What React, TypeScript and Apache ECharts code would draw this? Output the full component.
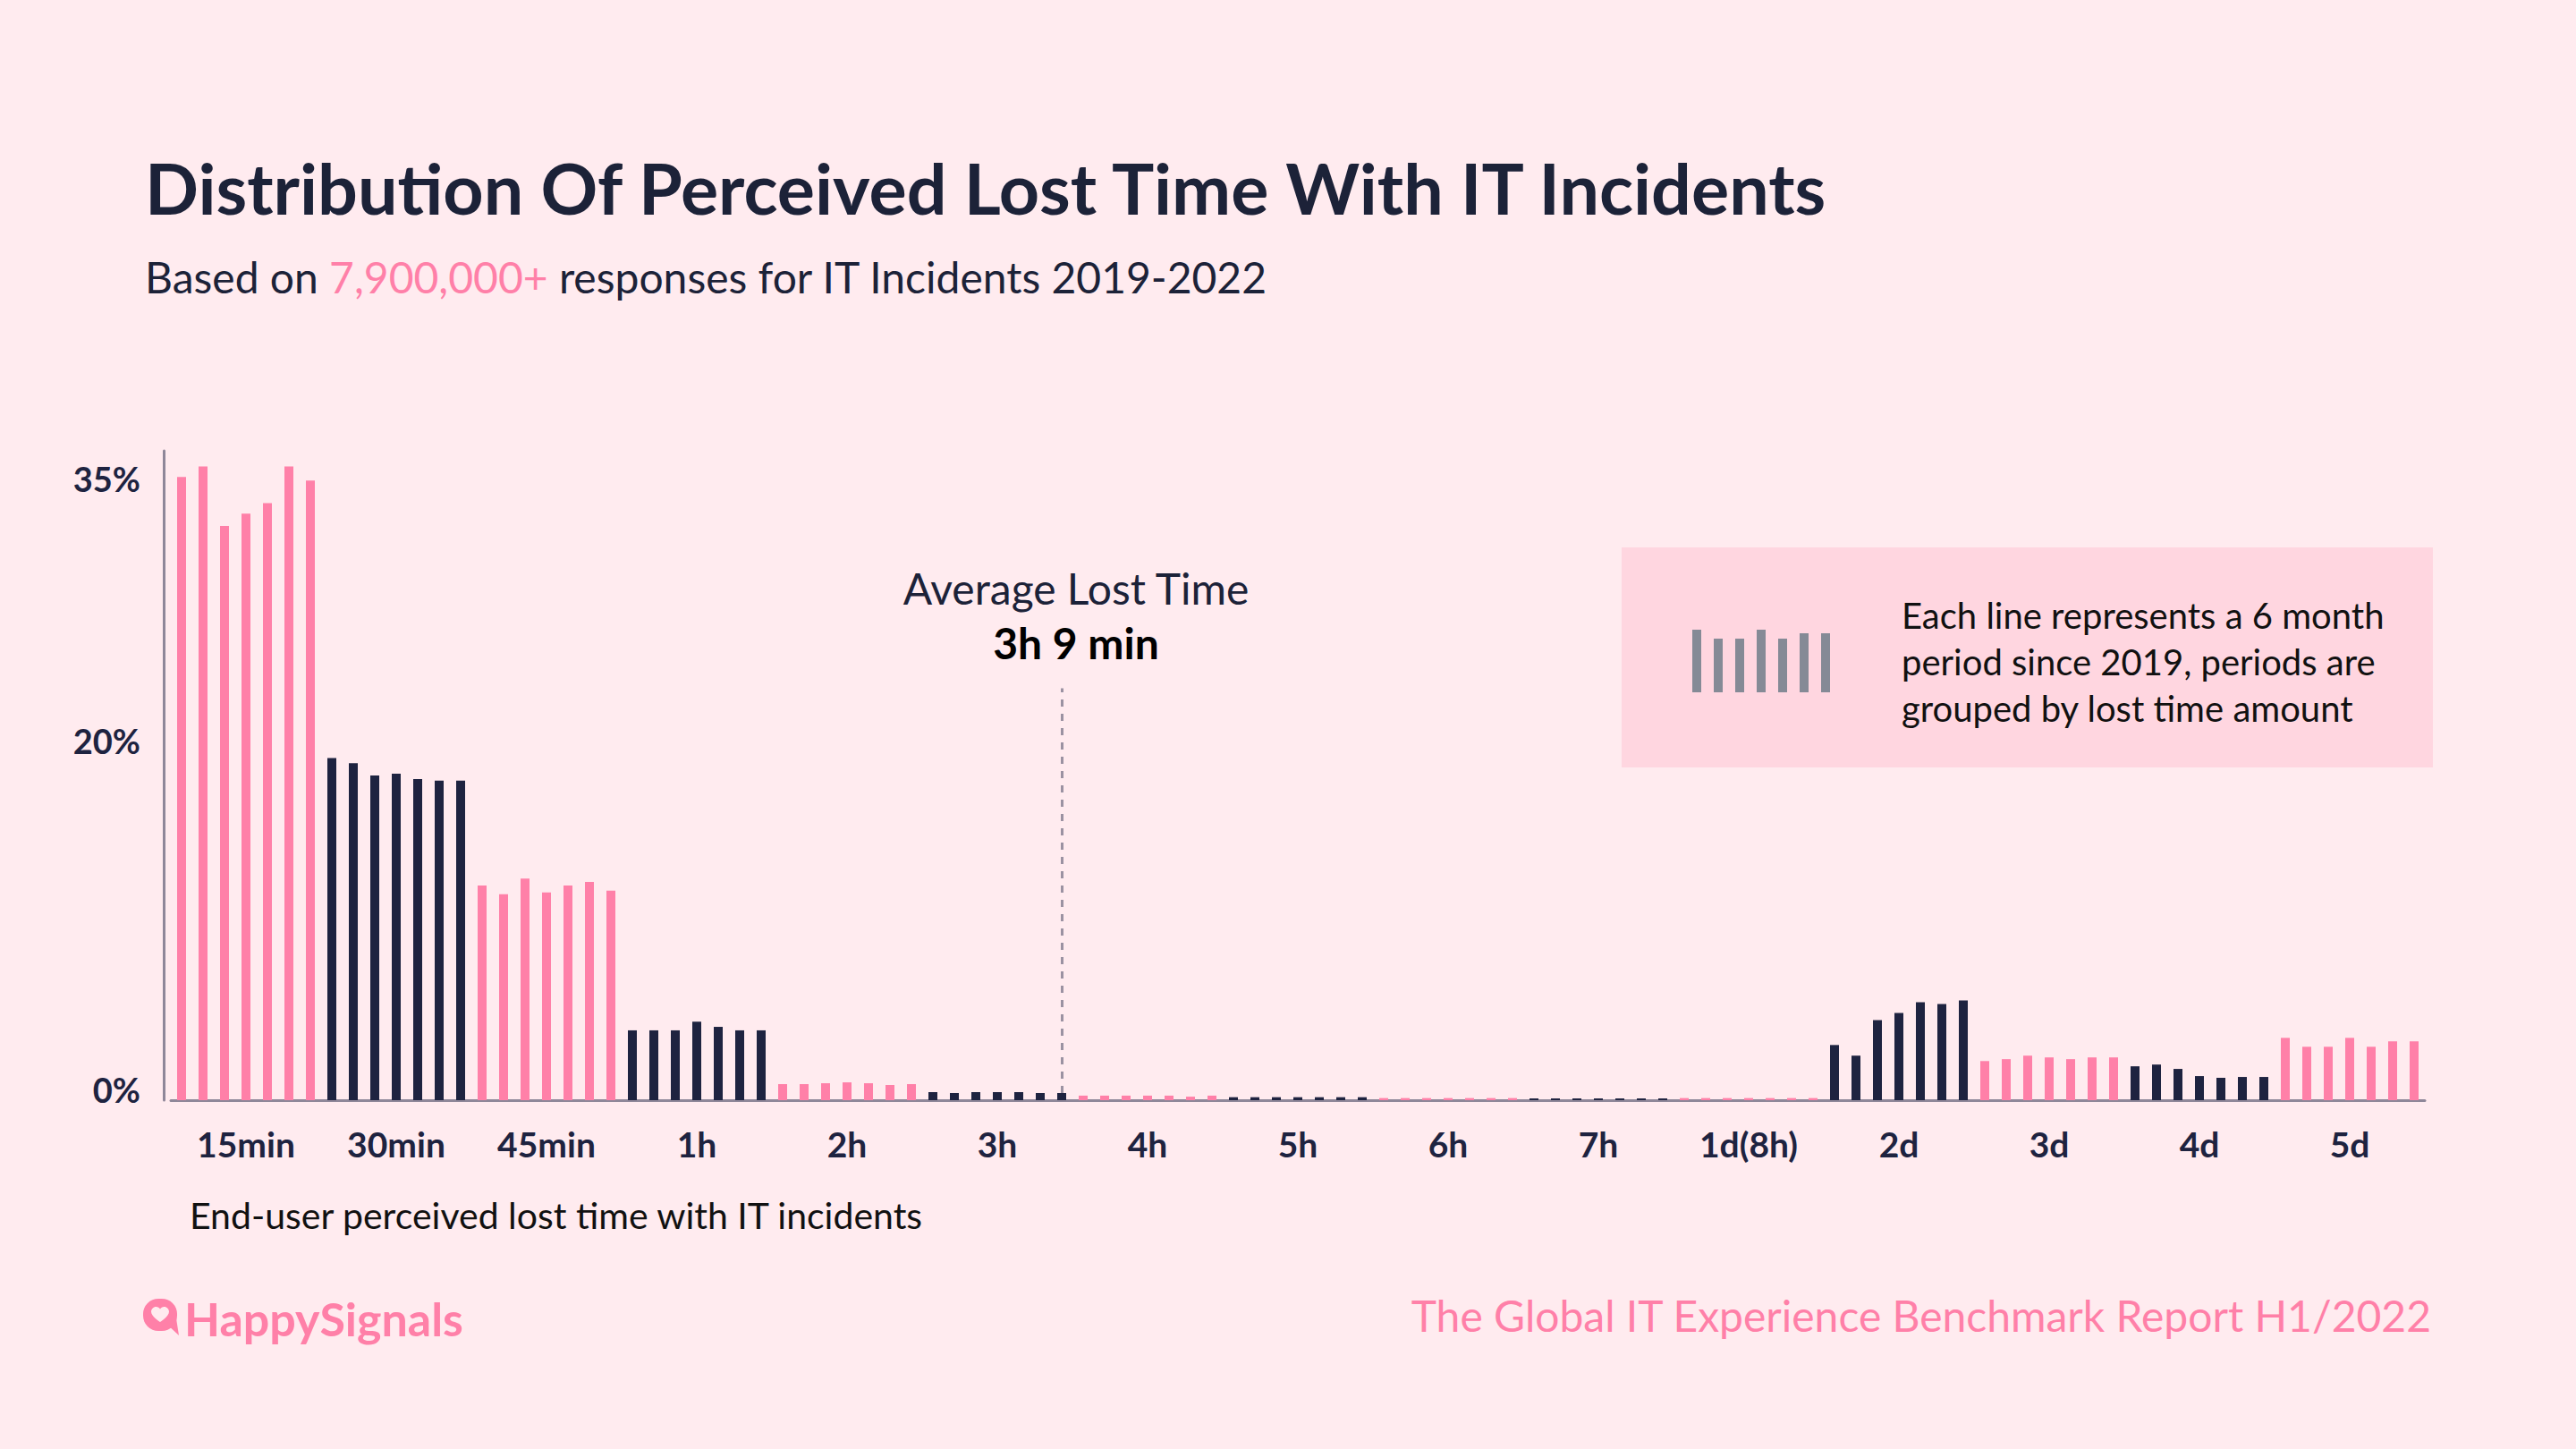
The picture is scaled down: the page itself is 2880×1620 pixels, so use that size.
import React, { useEffect, useRef } from "react";
import * as echarts from "echarts";

// lost-time buckets on the x axis
const buckets = ["15min", "30min", "45min", "1h", "2h", "3h", "4h", "5h", "6h", "7h", "1d(8h)", "2d", "3d", "4d", "5d"];
// half-year periods, one bar each inside every bucket
const periods = ["2019 H1", "2019 H2", "2020 H1", "2020 H2", "2021 H1", "2021 H2", "2022 H1"];

// share of responses (%) per bucket, one array per period
const p2019H1 = [35.7, 19.6, 12.3, 4.0, 0.92, 0.46, 0.26, 0.17, 0.12, 0.1, 0.12, 3.16, 2.24, 1.94, 3.57];
const p2019H2 = [36.3, 19.3, 11.8, 4.0, 0.92, 0.41, 0.26, 0.17, 0.12, 0.1, 0.12, 2.55, 2.35, 2.04, 3.06];
const p2020H1 = [32.9, 18.6, 12.7, 4.0, 0.97, 0.46, 0.26, 0.17, 0.12, 0.1, 0.12, 4.59, 2.55, 1.79, 3.06];
const p2020H2 = [33.6, 18.7, 11.9, 4.5, 1.02, 0.46, 0.26, 0.17, 0.12, 0.1, 0.12, 5.0, 2.45, 1.38, 3.57];
const p2021H1 = [34.2, 18.4, 12.3, 4.2, 0.97, 0.46, 0.26, 0.17, 0.12, 0.1, 0.12, 5.61, 2.35, 1.28, 3.06];
const p2021H2 = [36.3, 18.3, 12.5, 4.0, 0.87, 0.41, 0.2, 0.17, 0.12, 0.1, 0.12, 5.51, 2.45, 1.33, 3.37];
const p2022H1 = [35.5, 18.3, 12.0, 4.0, 0.92, 0.41, 0.26, 0.17, 0.12, 0.1, 0.12, 5.71, 2.45, 1.33, 3.37];

const yTickLabels = [0, 20, 35];

const averageBucket = "3h";
const averageLabel = "3h 9 min";

const PINK = "#ff80a8";
const NAVY = "#1e2340";
const BG = "#ffebef";
const FONT = "Lato, 'Noto Sans', sans-serif";

const App: React.FC = () => {
    const chartRef = useRef<HTMLDivElement>(null);

    useEffect(() => {
        if (!chartRef.current) return;
        document.body.style.margin = "0";

        const chart = echarts.init(chartRef.current, null, { renderer: "svg" });

        const series = [p2019H1, p2019H2, p2020H1, p2020H2, p2021H1, p2021H2, p2022H1];
        const categories: string[] = [];
        const values: number[] = [];
        buckets.forEach((b, bi) => {
            periods.forEach((p, pi) => {
                categories.push(`${b} ${p}`);
                values.push(series[pi][bi]);
            });
        });

        const avgIndex = buckets.indexOf(averageBucket) * periods.length + periods.length - 1;

        echarts.graphic.registerShape(
            "heart",
            echarts.graphic.extendPath(
                "M10 17 C10 17 0 11 0 5.5 C0 2.5 2.5 0 5.5 0 C7.5 0 9 1 10 2.5 C11 1 12.5 0 14.5 0 C17.5 0 20 2.5 20 5.5 C20 11 10 17 10 17 Z",
                {}
            )
        );

        const iconHeights = [70, 60, 60, 70, 60, 66, 66];

        const option = {
            animation: false,
            backgroundColor: BG,
            grid: {
                left: 191,
                right: 169,
                top: 504,
                bottom: 390,
                containLabel: false,
            },
            xAxis: {
                type: "category",
                data: categories,
                boundaryGap: true,
                axisLine: { lineStyle: { color: "#8f8799", width: 3 } },
                axisTick: { show: false },
                axisLabel: {
                    interval: (index: number) => index % periods.length === 3,
                    formatter: (_v: string, index: number) => buckets[Math.floor(index / periods.length)],
                    color: NAVY,
                    fontSize: 39,
                    fontWeight: "bold",
                    fontFamily: FONT,
                    margin: 29,
                },
            },
            yAxis: {
                type: "value",
                min: 0,
                max: 37.2,
                interval: 5,
                offset: 8,
                axisLine: { show: true, lineStyle: { color: "#8f8799", width: 3 } },
                axisTick: { show: false },
                splitLine: { show: false },
                axisLabel: {
                    formatter: (v: number) => (yTickLabels.includes(v) ? `${v}%` : ""),
                    color: NAVY,
                    fontSize: 38,
                    fontWeight: "bold",
                    fontFamily: FONT,
                    margin: 26,
                    verticalAlign: "bottom",
                    lineHeight: 24,
                },
            },
            series: [
                {
                    type: "bar",
                    data: values,
                    barWidth: 10,
                    itemStyle: {
                        color: (p: any) => (Math.floor(p.dataIndex / periods.length) % 2 === 0 ? PINK : NAVY),
                    },
                    markLine: {
                        silent: true,
                        symbol: ["none", "none"],
                        label: { show: false },
                        lineStyle: { color: "#9b92a2", width: 3, type: [8, 8] },
                        data: [
                            [
                                { coord: [categories[avgIndex], values[avgIndex]] },
                                { coord: [categories[avgIndex], 23.6] },
                            ],
                        ],
                    },
                },
            ],
            graphic: [
                {
                    type: "text",
                    x: 162,
                    y: 209,
                    style: {
                        text: "Distribution Of Perceived Lost Time With IT Incidents",
                        fontSize: 79,
                        fontWeight: "bold",
                        fontFamily: FONT,
                        fill: "#1c2238",
                        verticalAlign: "middle",
                        textVerticalAlign: "middle",
                    },
                },
                {
                    type: "text",
                    x: 162,
                    y: 309,
                    style: {
                        text: "{a|Based on }{b|7,900,000+}{a| responses for IT Incidents 2019-2022}",
                        verticalAlign: "middle",
                        textVerticalAlign: "middle",
                        rich: {
                            a: { fontSize: 48, fontFamily: FONT, fill: "#1c2238", color: "#1c2238" },
                            b: { fontSize: 48, fontFamily: FONT, fill: PINK, color: PINK },
                        },
                    },
                },
                {
                    type: "text",
                    x: 1203,
                    y: 657,
                    style: {
                        text: "Average Lost Time",
                        fontSize: 48,
                        fontFamily: FONT,
                        fill: "#1c2238",
                        align: "center",
                        textAlign: "center",
                        verticalAlign: "middle",
                        textVerticalAlign: "middle",
                    },
                },
                {
                    type: "text",
                    x: 1203,
                    y: 718,
                    style: {
                        text: averageLabel,
                        fontSize: 48,
                        fontWeight: "bold",
                        fontFamily: FONT,
                        fill: "#000000",
                        align: "center",
                        textAlign: "center",
                        verticalAlign: "middle",
                        textVerticalAlign: "middle",
                    },
                },
                {
                    type: "rect",
                    shape: { x: 1813, y: 612, width: 907, height: 246 },
                    style: { fill: "#ffd6e0" },
                },
                ...iconHeights.map((h, i) => ({
                    type: "rect",
                    shape: { x: 1892 + i * 24, y: 774 - h, width: 10, height: h },
                    style: { fill: "#858a96" },
                })),
                {
                    type: "text",
                    x: 2126,
                    y: 662,
                    style: {
                        text: "Each line represents a 6 month\nperiod since 2019, periods are\ngrouped by lost time amount",
                        fontSize: 40,
                        lineHeight: 52,
                        fontFamily: FONT,
                        fill: "#111111",
                        verticalAlign: "top",
                        textVerticalAlign: "top",
                    },
                },
                {
                    type: "text",
                    x: 212,
                    y: 1358,
                    style: {
                        text: "End-user perceived lost time with IT incidents",
                        fontSize: 41,
                        fontFamily: FONT,
                        fill: "#111111",
                        verticalAlign: "middle",
                        textVerticalAlign: "middle",
                    },
                },
                {
                    type: "rect",
                    shape: { x: 160, y: 1452, width: 38, height: 36, r: 17 },
                    style: { fill: PINK },
                },
                {
                    type: "polygon",
                    shape: { points: [[186, 1480], [200, 1493], [197, 1474]] },
                    style: { fill: PINK },
                },
                {
                    type: "heart",
                    x: 169,
                    y: 1461,
                    scaleX: 1,
                    scaleY: 1,
                    style: { fill: BG },
                },
                {
                    type: "text",
                    x: 206,
                    y: 1474,
                    style: {
                        text: "HappySignals",
                        fontSize: 52,
                        fontWeight: "bold",
                        fontFamily: FONT,
                        fill: PINK,
                        verticalAlign: "middle",
                        textVerticalAlign: "middle",
                    },
                },
                {
                    type: "text",
                    x: 2718,
                    y: 1470,
                    style: {
                        text: "The Global IT Experience Benchmark Report H1/2022",
                        fontSize: 48,
                        fontFamily: FONT,
                        fill: PINK,
                        align: "right",
                        textAlign: "right",
                        verticalAlign: "middle",
                        textVerticalAlign: "middle",
                    },
                },
            ],
        };

        chart.setOption(option as any);

        const handleResize = () => chart.resize();
        window.addEventListener("resize", handleResize);

        return () => {
            window.removeEventListener("resize", handleResize);
            chart.dispose();
        };
    }, []);

    return <div ref={chartRef} style={{ width: "2880px", height: "1620px" }} />;
};

export default App;
